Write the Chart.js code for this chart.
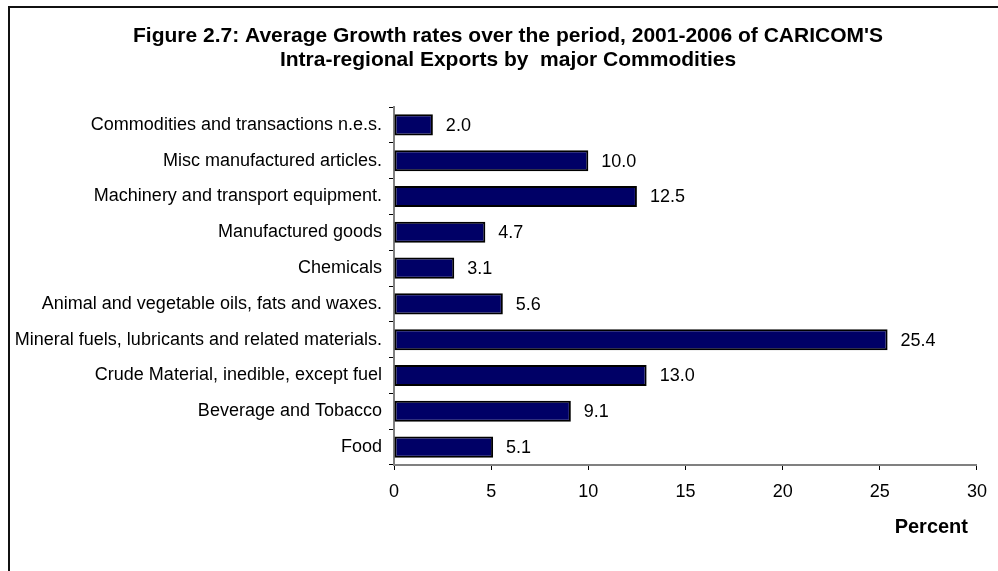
<!DOCTYPE html>
<html>
<head>
<meta charset="utf-8">
<script src="https://cdn.jsdelivr.net/npm/chart.js@4.4.1/dist/chart.umd.min.js"></script>
<style>
  html, body { margin: 0; padding: 0; background: #fff; }
  #wrap { position: relative; width: 998px; height: 571px; overflow: hidden; }
  #frame { position: absolute; left: 8px; top: 6px; width: 1100px; height: 700px;
           border-left: 2px solid #111; border-top: 2px solid #111; }
  canvas { position: absolute; left: 0; top: 0; }
</style>
</head>
<body>
<div id="wrap">
  <div id="frame"></div>
  <canvas id="chart" width="998" height="571"></canvas>
</div>
<script>
// Data (top to bottom as shown)
const categories = [
  "Commodities and transactions n.e.s.",
  "Misc manufactured articles.",
  "Machinery and transport equipment.",
  "Manufactured goods",
  "Chemicals",
  "Animal and vegetable oils, fats and waxes.",
  "Mineral fuels, lubricants and related materials.",
  "Crude Material, inedible, except fuel",
  "Beverage and Tobacco",
  "Food"
];
const growthRates = [2.0, 10.0, 12.5, 4.7, 3.1, 5.6, 25.4, 13.0, 9.1, 5.1];
const xTicks = [0, 5, 10, 15, 20, 25, 30];
const titleLines = [
  "Figure 2.7: Average Growth rates over the period, 2001-2006 of CARICOM'S",
  "Intra-regional Exports by  major Commodities"
];
const axisTitle = "Percent";

const FONT = "Arial, 'Liberation Sans', sans-serif";

// draws the figure title, the axis caption and the value labels
const decorPlugin = {
  id: "decor",
  afterDatasetsDraw(chart) {
    const ctx = chart.ctx;
    const meta = chart.getDatasetMeta(0);
    ctx.save();
    ctx.font = "18px " + FONT;
    ctx.fillStyle = "#000";
    ctx.textAlign = "left";
    ctx.textBaseline = "middle";
    meta.data.forEach((bar, i) => {
      ctx.fillText(growthRates[i].toFixed(1), bar.x + 13, bar.y + 1);
    });
    ctx.restore();
  },
  afterDraw(chart) {
    const ctx = chart.ctx;
    ctx.save();
    ctx.fillStyle = "#000";
    ctx.textAlign = "center";
    ctx.textBaseline = "middle";
    ctx.font = "bold 21px " + FONT;
    titleLines.forEach((line, i) => ctx.fillText(line, 508, 36 + i * 24));
    ctx.font = "bold 20px " + FONT;
    ctx.textAlign = "right";
    ctx.fillText(axisTitle, 968, 527);
    ctx.restore();
  }
};

const ctx = document.getElementById("chart");
new Chart(ctx, {
  type: "bar",
  data: {
    labels: categories,
    datasets: [{
      data: growthRates,
      backgroundColor: "#000066",
      borderColor: "#000",
      borderWidth: 2,
      borderSkipped: false,
      barPercentage: 0.59,
      categoryPercentage: 1
    }]
  },
  options: {
    indexAxis: "y",
    responsive: false,
    animation: false,
    devicePixelRatio: 1,
    layout: { padding: { left: 0, top: 107, right: 21, bottom: 0 } },
    plugins: { legend: { display: false }, title: { display: false }, tooltip: { enabled: false } },
    scales: {
      x: {
        min: 0,
        max: 30,
        afterBuildTicks: (s) => { s.ticks = xTicks.map(v => ({ value: v })); },
        afterFit: (s) => { s.height = 106; },
        grid: { drawOnChartArea: false, tickLength: 5, color: "#000" },
        border: { color: "#808080", width: 2 },
        ticks: { font: { family: FONT, size: 18 }, color: "#000", padding: 11, maxRotation: 0 }
      },
      y: {
        afterFit: (s) => { s.width = 394; },
        grid: { drawOnChartArea: false, tickLength: 5, color: "#000", offset: true },
        border: { color: "#808080", width: 2 },
        ticks: { font: { family: FONT, size: 18 }, color: "#000", padding: 7, autoSkip: false }
      }
    }
  },
  plugins: [decorPlugin]
});
</script>
</body>
</html>
